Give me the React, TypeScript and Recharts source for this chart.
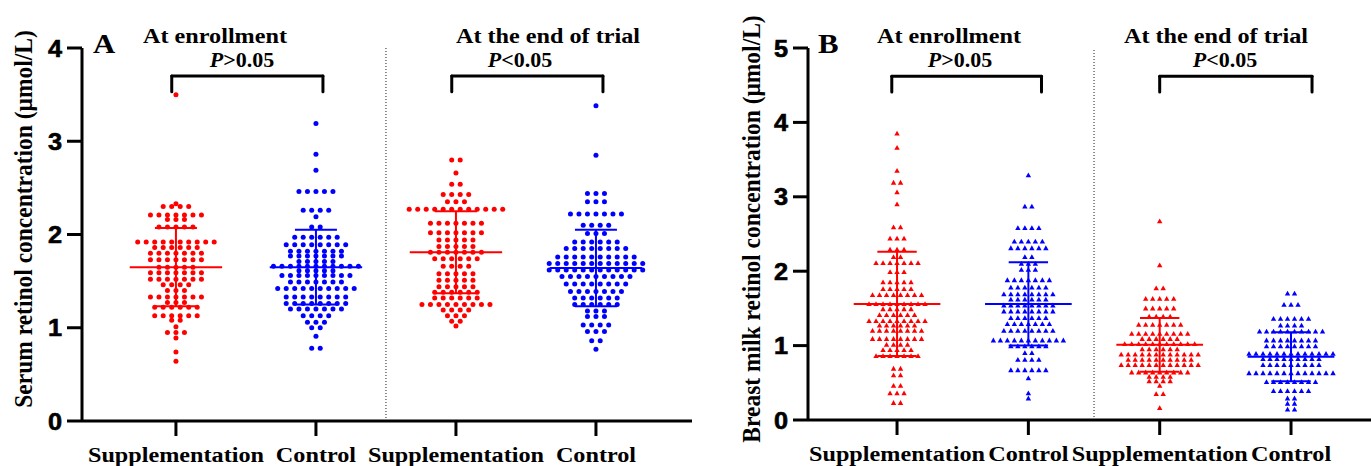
import React from 'react';
import { ScatterChart, Scatter, XAxis, YAxis, ReferenceLine } from 'recharts';

const SERIF = '"Liberation Serif", "Times New Roman", serif';
const SANS = '"Liberation Sans", Arial, sans-serif';
const RED = '#ff0000';
const BLUE = '#0000ff';
// the original figure is a little wider than tall, so glyphs get stretched sideways
const STRETCH = 1.1;

const groupLabels = ['Supplementation', 'Control', 'Supplementation', 'Control'];
const groupColors = [RED, BLUE, RED, BLUE];
const serumTicks = [0, 1, 2, 3, 4];
const milkTicks = [0, 1, 2, 3, 4, 5];

// serum retinol (µmol/L), dot-plot rows as [value, dots in the row]
const serumSuppEnroll = [
  [3.5, 1], [2.33, 1], [2.3, 4], [2.21, 7], [2.16, 3], [2.08, 5], [1.92, 10], [1.86, 6],
  [1.8, 7], [1.73, 7], [1.65, 5], [1.59, 7], [1.52, 7], [1.46, 4], [1.4, 3], [1.33, 7],
  [1.27, 3], [1.22, 6], [1.13, 6], [1.08, 2], [1.01, 1], [0.95, 3], [0.89, 1], [0.74, 1], [0.64, 1],
];
const serumCtrlEnroll = [
  [3.19, 1], [2.86, 1], [2.69, 1], [2.46, 5], [2.26, 4], [2.19, 1], [2.08, 2], [1.97, 6],
  [1.89, 8], [1.82, 7], [1.77, 7], [1.71, 5], [1.66, 11], [1.61, 5], [1.56, 9], [1.49, 7],
  [1.42, 10], [1.33, 8], [1.26, 8], [1.2, 7], [1.13, 4], [1.06, 3], [1.0, 2], [0.91, 1], [0.78, 2],
];
const serumSuppEnd = [
  [2.8, 2], [2.66, 1], [2.54, 2], [2.43, 4], [2.35, 3], [2.27, 12], [2.12, 7], [2.02, 7],
  [1.94, 5], [1.87, 5], [1.81, 7], [1.74, 6], [1.66, 4], [1.58, 5], [1.51, 5], [1.44, 5],
  [1.38, 6], [1.32, 6], [1.25, 9], [1.19, 4], [1.13, 3], [1.07, 2], [1.02, 1],
];
const serumCtrlEnd = [
  [3.38, 1], [2.85, 1], [2.44, 3], [2.35, 3], [2.22, 7], [2.1, 4], [2.01, 3], [1.92, 6],
  [1.85, 8], [1.76, 10], [1.69, 12], [1.62, 12], [1.55, 9], [1.47, 8], [1.39, 7], [1.32, 6],
  [1.25, 6], [1.18, 3], [1.12, 3], [1.03, 4], [0.96, 3], [0.86, 2], [0.77, 1],
];

// breast milk retinol (µmol/L)
const milkSuppEnroll = [
  [3.85, 1], [3.66, 1], [3.35, 1], [3.19, 2], [3.06, 1], [2.9, 1], [2.59, 2], [2.44, 3],
  [2.29, 3], [2.19, 2], [2.11, 7], [1.99, 3], [1.85, 5], [1.76, 5], [1.68, 8], [1.56, 9],
  [1.49, 5], [1.41, 6], [1.33, 9], [1.27, 6], [1.2, 8], [1.09, 8], [1.01, 4], [0.94, 5],
  [0.86, 7], [0.69, 2], [0.6, 2], [0.46, 2], [0.36, 3], [0.23, 2],
];
const milkCtrlEnroll = [
  [3.29, 1], [2.87, 2], [2.58, 4], [2.4, 5], [2.31, 6], [2.19, 2], [2.1, 3], [2.02, 3],
  [1.88, 7], [1.78, 6], [1.69, 8], [1.62, 6], [1.54, 8], [1.46, 8], [1.37, 6], [1.29, 7],
  [1.2, 8], [1.07, 11], [0.99, 6], [0.9, 2], [0.81, 4], [0.67, 6], [0.56, 1], [0.36, 1], [0.29, 1],
];
const milkSuppEnd = [
  [2.67, 1], [2.08, 1], [1.77, 2], [1.63, 5], [1.5, 5], [1.39, 4], [1.28, 7], [1.16, 9],
  [1.09, 6], [1.02, 11], [0.95, 6], [0.88, 12], [0.81, 10], [0.74, 12], [0.64, 9], [0.58, 4],
  [0.52, 4], [0.46, 1], [0.35, 2], [0.16, 1],
];
const milkCtrlEnd = [
  [1.7, 2], [1.55, 3], [1.36, 6], [1.27, 4], [1.19, 10], [1.07, 8], [0.99, 8], [0.89, 13],
  [0.82, 9], [0.74, 9], [0.63, 13], [0.51, 8], [0.39, 6], [0.29, 2], [0.22, 2], [0.14, 2],
];

// mean and SD per group
const serumMean = [1.65, 1.65, 1.81, 1.64];
const serumSD = [0.42, 0.4, 0.44, 0.41];
const milkMean = [1.56, 1.56, 1.01, 0.85];
const milkSD = [0.7, 0.56, 0.36, 0.33];

// comparison brackets: [left, right] in group units, and [top, foot] in µmol/L
const serumBrackets = [[0.97, 2.05], [2.97, 4.05]];
const serumBracketY = [3.7, 3.53];
const milkBrackets = [[0.96, 2.1], [3.0, 4.16]];
const milkBracketY = [4.62, 4.41];

const MEAN_HALF = 0.33;
const CAP_HALF = 0.15;

// lay each row of dots out side by side around its group centre
function swarm(rows: number[][], group: number, pxPerUnit: number, spacing: number) {
  const pts: { x: number; y: number }[] = [];
  rows.forEach(([v, n]) => {
    for (let i = 0; i < n; i++) {
      pts.push({ x: group + ((i - (n - 1) / 2) * spacing) / pxPerUnit, y: v });
    }
  });
  return pts;
}

const circleShape = (color: string) => (p: any) => (
  <circle cx={p.cx} cy={p.cy} r={2.5} fill={color} />
);
const triangleShape = (color: string) => (p: any) => (
  <path
    d={`M${p.cx},${p.cy - 2.8}L${p.cx + 2.7},${p.cy + 2}L${p.cx - 2.7},${p.cy + 2}Z`}
    fill={color}
  />
);

const XTick = ({ x, y, payload }: any) => (
  <text
    transform={`translate(${x},${y + 24}) scale(${STRETCH},1)`}
    textAnchor="middle"
    fontFamily={SERIF}
    fontWeight="bold"
    fontSize={22}
    fill="#000"
  >
    {groupLabels[payload.value - 1]}
  </text>
);

const YTick = ({ x, y, payload }: any) => (
  <text
    transform={`translate(${x},${y + 8.5}) scale(${STRETCH},1)`}
    textAnchor="end"
    fontFamily={SANS}
    fontWeight="bold"
    fontSize={23}
    fill="#000"
    stroke="#000"
    strokeWidth={0.6}
  >
    {payload.value}
  </text>
);

interface PanelProps {
  left: number;
  width: number;
  axisWidth: number;
  rightGap: number;
  xAxisHeight: number;
  xDomain: [number, number];
  yTicks: number[];
  groups: number[][][];
  means: number[];
  sds: number[];
  brackets: number[][];
  bracketY: number[];
  marker: 'circle' | 'triangle';
  spacing: number;
}

function Panel(props: PanelProps) {
  const { left, width, axisWidth, rightGap, xAxisHeight, xDomain, yTicks } = props;
  const height = 466;
  const pxPerUnit = (width - axisWidth - rightGap) / (xDomain[1] - xDomain[0]);
  const yMax = yTicks[yTicks.length - 1];

  return (
    <div style={{ position: 'absolute', left, top: 0 }}>
      <ScatterChart width={width} height={height} margin={{ top: 48, right: rightGap, bottom: 0, left: 0 }}>
        <XAxis
          type="number"
          dataKey="x"
          domain={xDomain}
          ticks={[1, 2, 3, 4]}
          interval={0}
          height={xAxisHeight}
          tickSize={15}
          tickMargin={2}
          axisLine={{ stroke: '#000', strokeWidth: 3 }}
          tickLine={{ stroke: '#000', strokeWidth: 3 }}
          tick={(p: any) => <XTick {...p} />}
        />
        <YAxis
          type="number"
          dataKey="y"
          domain={[0, yMax]}
          ticks={yTicks}
          interval={0}
          width={axisWidth}
          tickSize={15}
          tickMargin={5}
          axisLine={{ stroke: '#000', strokeWidth: 3 }}
          tickLine={{ stroke: '#000', strokeWidth: 3 }}
          tick={(p: any) => <YTick {...p} />}
        />
        <ReferenceLine x={2.5} stroke="#444" strokeWidth={1.2} strokeDasharray="1 2" />

        {props.groups.map((rows, gi) => (
          <Scatter
            key={'g' + gi}
            data={swarm(rows, gi + 1, pxPerUnit, props.spacing)}
            shape={props.marker === 'circle' ? circleShape(groupColors[gi]) : triangleShape(groupColors[gi])}
            isAnimationActive={false}
          />
        ))}

        {props.means.map((m, gi) => {
          const c = gi + 1;
          const hi = m + props.sds[gi];
          const lo = m - props.sds[gi];
          const col = groupColors[gi];
          return [
            <ReferenceLine key={'m' + gi} segment={[{ x: c - MEAN_HALF, y: m }, { x: c + MEAN_HALF, y: m }]} stroke={col} strokeWidth={2} />,
            <ReferenceLine key={'v' + gi} segment={[{ x: c, y: lo }, { x: c, y: hi }]} stroke={col} strokeWidth={2} />,
            <ReferenceLine key={'h' + gi} segment={[{ x: c - CAP_HALF, y: hi }, { x: c + CAP_HALF, y: hi }]} stroke={col} strokeWidth={2} />,
            <ReferenceLine key={'l' + gi} segment={[{ x: c - CAP_HALF, y: lo }, { x: c + CAP_HALF, y: lo }]} stroke={col} strokeWidth={2} />,
          ];
        })}

        {props.brackets.map(([a, b], bi) => {
          const [top, foot] = props.bracketY;
          return [
            <ReferenceLine key={'bt' + bi} segment={[{ x: a, y: top }, { x: b, y: top }]} stroke="#000" strokeWidth={3} strokeLinecap="round" />,
            <ReferenceLine key={'bl' + bi} segment={[{ x: a, y: top }, { x: a, y: foot }]} stroke="#000" strokeWidth={3} strokeLinecap="round" />,
            <ReferenceLine key={'br' + bi} segment={[{ x: b, y: top }, { x: b, y: foot }]} stroke="#000" strokeWidth={3} strokeLinecap="round" />,
          ];
        })}
      </ScatterChart>
    </div>
  );
}

function Label({ x, y, size, anchor = 'middle', rotate = false, children }: any) {
  const tr = rotate
    ? `translate(${x},${y}) rotate(-90) scale(1,${STRETCH})`
    : `translate(${x},${y}) scale(${STRETCH},1)`;
  return (
    <text transform={tr} textAnchor={anchor} fontFamily={SERIF} fontWeight="bold" fontSize={size} fill="#000">
      {children}
    </text>
  );
}

export default function App() {
  return (
    <div style={{ position: 'absolute', left: 0, top: 0, width: 1371, height: 466, background: '#fff' }}>
      <Panel
        left={0}
        width={695}
        axisWidth={82}
        rightGap={3}
        xAxisHeight={45}
        xDomain={[0.329, 4.686]}
        yTicks={serumTicks}
        groups={[serumSuppEnroll, serumCtrlEnroll, serumSuppEnd, serumCtrlEnd]}
        means={serumMean}
        sds={serumSD}
        brackets={serumBrackets}
        bracketY={serumBracketY}
        marker="circle"
        spacing={8.5}
      />
      <Panel
        left={695}
        width={676}
        axisWidth={113}
        rightGap={0}
        xAxisHeight={46}
        xDomain={[0.322, 4.609]}
        yTicks={milkTicks}
        groups={[milkSuppEnroll, milkCtrlEnroll, milkSuppEnd, milkCtrlEnd]}
        means={milkMean}
        sds={milkSD}
        brackets={milkBrackets}
        bracketY={milkBracketY}
        marker="triangle"
        spacing={7}
      />
      <svg width={1371} height={466} style={{ position: 'absolute', left: 0, top: 0, pointerEvents: 'none' }}>
        <Label x={32} y={219} size={23.5} rotate>Serum retinol concentration (μmol/L)</Label>
        <Label x={93} y={53} size={28} anchor="start">A</Label>
        <Label x={215} y={43} size={22}>At enrollment</Label>
        <Label x={242} y={67} size={20}><tspan fontStyle="italic">P</tspan>&gt;0.05</Label>
        <Label x={548} y={43} size={22}>At the end of trial</Label>
        <Label x={520} y={67} size={20}><tspan fontStyle="italic">P</tspan>&lt;0.05</Label>

        <Label x={760} y={229} size={23.5} rotate>Breast milk retinol concentration (μmol/L)</Label>
        <Label x={818} y={53} size={28} anchor="start">B</Label>
        <Label x={949} y={43} size={22}>At enrollment</Label>
        <Label x={960} y={67} size={20}><tspan fontStyle="italic">P</tspan>&gt;0.05</Label>
        <Label x={1216} y={43} size={22}>At the end of trial</Label>
        <Label x={1225} y={67} size={20}><tspan fontStyle="italic">P</tspan>&lt;0.05</Label>
      </svg>
    </div>
  );
}
